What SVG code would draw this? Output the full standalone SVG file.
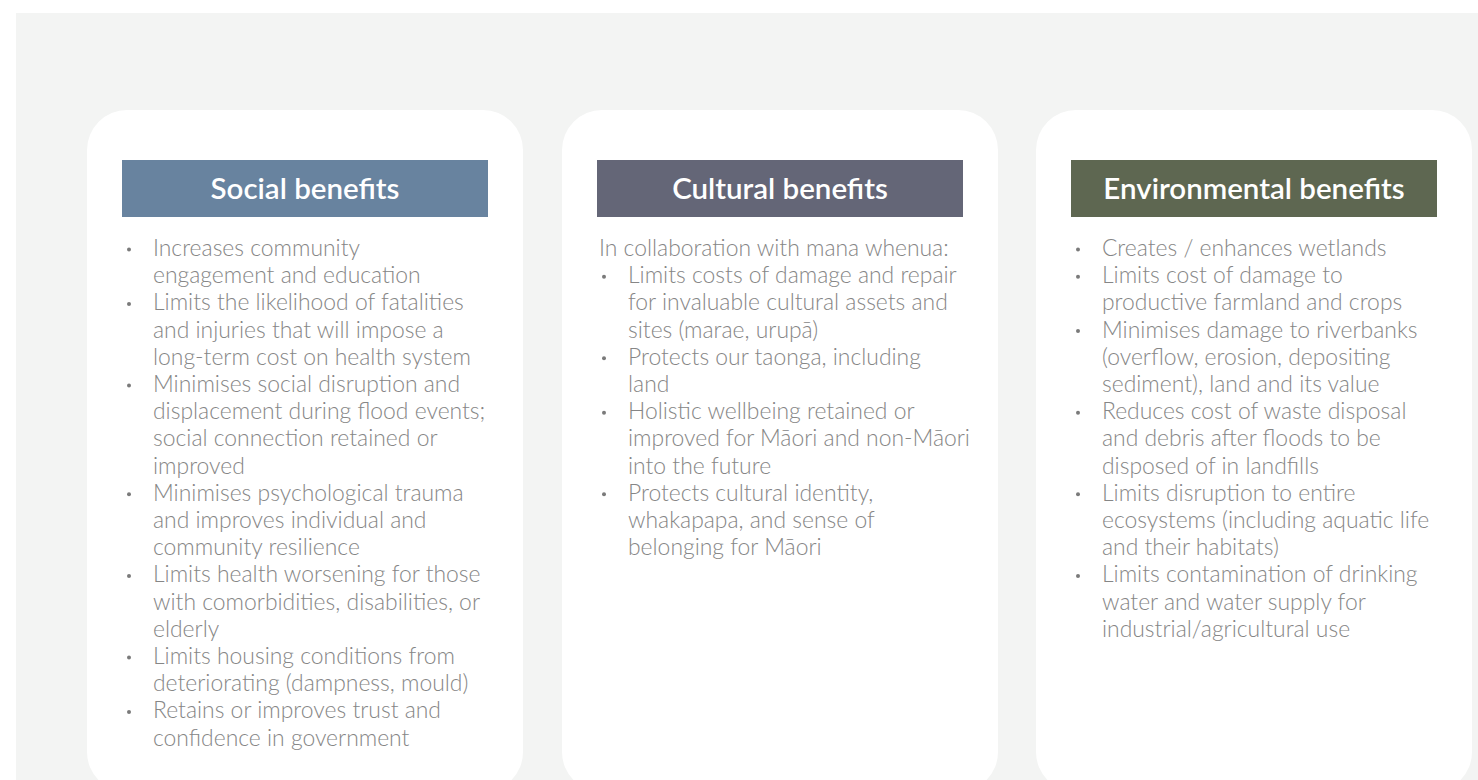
<svg xmlns="http://www.w3.org/2000/svg" width="1478" height="780" viewBox="0 0 1478 780">
<style>
.bg{fill:#f3f4f3}
.card{fill:#ffffff}
.hd{font-family:Lato,"Liberation Sans",sans-serif;font-weight:600;font-size:29.5px;fill:#ffffff;text-anchor:middle}
.tx{font-family:Lato,"Liberation Sans",sans-serif;font-weight:300;font-size:22.9px;fill:#868686}
.bl{fill:#7a7a7a}
</style>
<rect x="0" y="0" width="1478" height="780" fill="#ffffff"/>
<rect class="bg" x="16" y="13" width="1462" height="767"/>

<g id="social">
<rect class="card" x="87" y="110" width="436" height="682" rx="40"/>
<rect x="122" y="160" width="366" height="57" fill="#68839f"/>
<text class="hd" x="305" y="198.5">Social benefits</text>
<g class="bl">
<circle cx="129" cy="249.5" r="2"/>
<circle cx="129" cy="303.9" r="2"/>
<circle cx="129" cy="385.5" r="2"/>
<circle cx="129" cy="494.3" r="2"/>
<circle cx="129" cy="575.9" r="2"/>
<circle cx="129" cy="657.5" r="2"/>
<circle cx="129" cy="711.9" r="2"/>
</g>
<text class="tx">
<tspan x="153" y="256">Increases community</tspan>
<tspan x="153" y="283.2">engagement and education</tspan>
<tspan x="153" y="310.4">Limits the likelihood of fatalities</tspan>
<tspan x="153" y="337.6">and injuries that will impose a</tspan>
<tspan x="153" y="364.8">long-term cost on health system</tspan>
<tspan x="153" y="392">Minimises social disruption and</tspan>
<tspan x="153" y="419.2">displacement during flood events;</tspan>
<tspan x="153" y="446.4">social connection retained or</tspan>
<tspan x="153" y="473.6">improved</tspan>
<tspan x="153" y="500.8">Minimises psychological trauma</tspan>
<tspan x="153" y="528">and improves individual and</tspan>
<tspan x="153" y="555.2">community resilience</tspan>
<tspan x="153" y="582.4">Limits health worsening for those</tspan>
<tspan x="153" y="609.6">with comorbidities, disabilities, or</tspan>
<tspan x="153" y="636.8">elderly</tspan>
<tspan x="153" y="664">Limits housing conditions from</tspan>
<tspan x="153" y="691.2">deteriorating (dampness, mould)</tspan>
<tspan x="153" y="718.4">Retains or improves trust and</tspan>
<tspan x="153" y="745.6">confidence in government</tspan>
</text>
</g>

<g id="cultural">
<rect class="card" x="562" y="110" width="436" height="682" rx="40"/>
<rect x="597" y="160" width="366" height="57" fill="#646677"/>
<text class="hd" x="780" y="198.5">Cultural benefits</text>
<g class="bl">
<circle cx="604" cy="276.7" r="2"/>
<circle cx="604" cy="358.3" r="2"/>
<circle cx="604" cy="412.7" r="2"/>
<circle cx="604" cy="494.3" r="2"/>
</g>
<text class="tx">
<tspan x="599" y="256">In collaboration with mana whenua:</tspan>
<tspan x="628" y="283.2">Limits costs of damage and repair</tspan>
<tspan x="628" y="310.4">for invaluable cultural assets and</tspan>
<tspan x="628" y="337.6">sites (marae, urupā)</tspan>
<tspan x="628" y="364.8">Protects our taonga, including</tspan>
<tspan x="628" y="392">land</tspan>
<tspan x="628" y="419.2">Holistic wellbeing retained or</tspan>
<tspan x="628" y="446.4">improved for Māori and non-Māori</tspan>
<tspan x="628" y="473.6">into the future</tspan>
<tspan x="628" y="500.8">Protects cultural identity,</tspan>
<tspan x="628" y="528">whakapapa, and sense of</tspan>
<tspan x="628" y="555.2">belonging for Māori</tspan>
</text>
</g>

<g id="environmental">
<rect class="card" x="1036" y="110" width="436" height="682" rx="40"/>
<rect x="1071" y="160" width="366" height="57" fill="#5e6751"/>
<text class="hd" x="1254" y="198.5">Environmental benefits</text>
<g class="bl">
<circle cx="1078" cy="249.5" r="2"/>
<circle cx="1078" cy="276.7" r="2"/>
<circle cx="1078" cy="331.1" r="2"/>
<circle cx="1078" cy="412.7" r="2"/>
<circle cx="1078" cy="494.3" r="2"/>
<circle cx="1078" cy="575.9" r="2"/>
</g>
<text class="tx">
<tspan x="1102" y="256">Creates / enhances wetlands</tspan>
<tspan x="1102" y="283.2">Limits cost of damage to</tspan>
<tspan x="1102" y="310.4">productive farmland and crops</tspan>
<tspan x="1102" y="337.6">Minimises damage to riverbanks</tspan>
<tspan x="1102" y="364.8">(overflow, erosion, depositing</tspan>
<tspan x="1102" y="392">sediment), land and its value</tspan>
<tspan x="1102" y="419.2">Reduces cost of waste disposal</tspan>
<tspan x="1102" y="446.4">and debris after floods to be</tspan>
<tspan x="1102" y="473.6">disposed of in landfills</tspan>
<tspan x="1102" y="500.8">Limits disruption to entire</tspan>
<tspan x="1102" y="528">ecosystems (including aquatic life</tspan>
<tspan x="1102" y="555.2">and their habitats)</tspan>
<tspan x="1102" y="582.4">Limits contamination of drinking</tspan>
<tspan x="1102" y="609.6">water and water supply for</tspan>
<tspan x="1102" y="636.8">industrial/agricultural use</tspan>
</text>
</g>
</svg>
